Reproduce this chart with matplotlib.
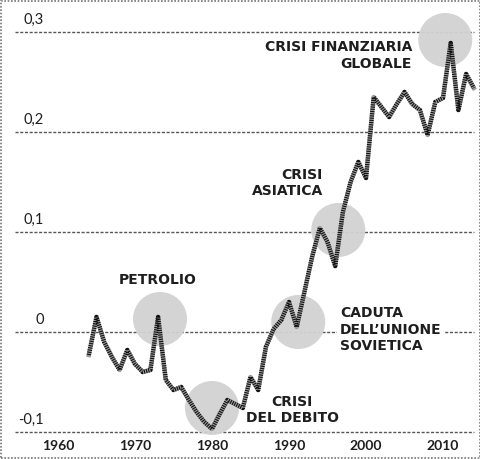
import matplotlib.pyplot as plt
from matplotlib.patches import Rectangle

# annual values
years = list(range(1964, 2015))
values = [-0.023, 0.015, -0.010, -0.025, -0.038, -0.018, -0.032, -0.040, -0.038, 0.015,
          -0.048, -0.058, -0.055, -0.068, -0.080, -0.090, -0.097, -0.082, -0.068, -0.072,
          -0.076, -0.045, -0.058, -0.015, 0.003, 0.012, 0.030, 0.005, 0.040, 0.075,
          0.104, 0.090, 0.066, 0.120, 0.150, 0.170, 0.154, 0.235, 0.225, 0.215,
          0.228, 0.240, 0.228, 0.222, 0.197, 0.230, 0.234, 0.289, 0.222, 0.258, 0.244]

grid_vals = [-0.1, 0, 0.1, 0.2, 0.3]
grid_labels = ["-0,1", "0", "0,1", "0,2", "0,3"]
xtick_years = [1960, 1970, 1980, 1990, 2000, 2010]

# highlighted events: (year, value) of circle centre
events_x = [1973.25, 1980.0, 1991.2, 1996.4, 2010.3]
events_y = [0.013, -0.076, 0.010, 0.102, 0.292]

INK = "#1e1e1e"

fig = plt.figure(figsize=(4.81, 4.59), dpi=100)
ax = fig.add_axes([0, 0, 1, 1])
ax.set_xlim(1960 - 58 / 7.7, 1960 + 423 / 7.7)
ax.set_ylim(-0.127, 0.332)
ax.axis("off")

x_left = 1960 + (15 - 58) / 7.7
x_right = 1960 + (474 - 58) / 7.7
for v, lab in zip(grid_vals, grid_labels):
    ax.hlines(v, x_left, x_right, colors="#555555", linewidth=1.0,
              linestyles=(0, (2.2, 1.2)), zorder=1)
    ax.text(1960 + (44 - 58) / 7.7, v + 0.005, lab, ha="right", va="bottom",
            fontsize=10.5, family="Lato", color=INK, zorder=2)

for yr in xtick_years:
    ax.text(yr, -0.114, str(yr), ha="center", va="center", fontsize=10,
            family="Lato", fontweight="bold", color=INK)

ax.scatter(events_x, events_y, s=1513, color="#d2d2d2", edgecolors="none",
           alpha=0.95, zorder=3)

ax.plot(years, values, color="#9a9a9a", linewidth=3.2, zorder=4)
ax.plot(years, values, color="#111111", linewidth=3.2, zorder=5,
        linestyle=(0, (0.25, 0.25)), dash_capstyle="butt")

lab_kw = dict(fontsize=10, family="DejaVu Sans", fontweight="bold", color=INK,
              linespacing=1.2, zorder=6)
ax.text(2005.97, 0.2765, "CRISI FINANZIARIA\nGLOBALE", ha="right", va="center",
        multialignment="right", **lab_kw)
ax.text(1994.4, 0.149, "CRISI\nASIATICA", ha="right", va="center",
        multialignment="right", **lab_kw)
ax.text(1973.0, 0.052, "PETROLIO", ha="center", va="center", **lab_kw)
ax.text(1996.6, 0.0025, "CADUTA\nDELL\u2019UNIONE\nSOVIETICA", ha="left", va="center",
        multialignment="left",
        bbox=dict(facecolor="white", edgecolor="none", pad=2), **lab_kw)
ax.text(1990.4, -0.078, "CRISI\nDEL DEBITO", ha="center", va="center",
        multialignment="center", **lab_kw)

# dotted frame around the picture
fig.patches.append(Rectangle((0.002, 0.002), 0.996, 0.996, transform=fig.transFigure,
                             fill=False, edgecolor="#777777", linewidth=1.2,
                             linestyle=(0, (1, 1))))

fig.savefig("out.png", dpi=100)
